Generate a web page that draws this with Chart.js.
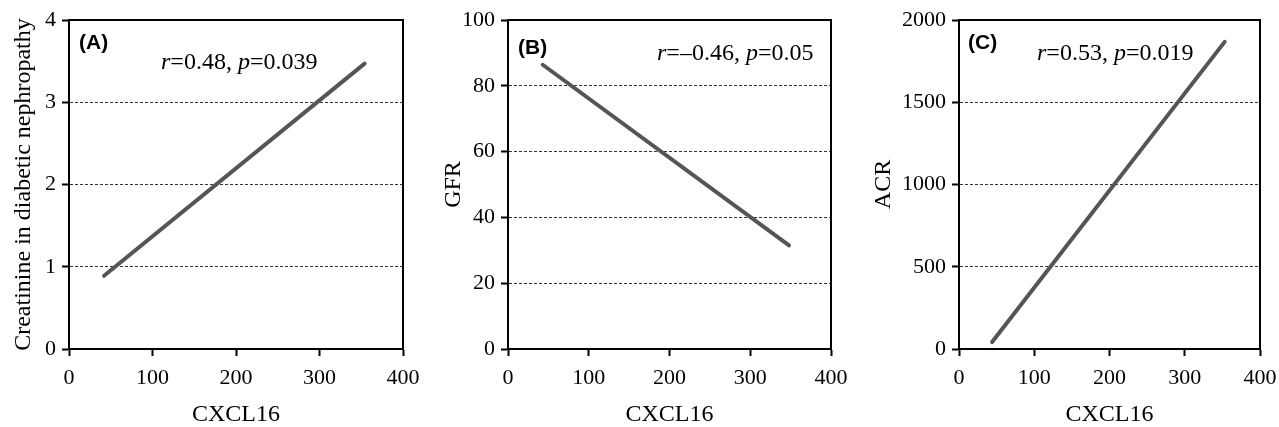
<!DOCTYPE html>
<html>
<head>
<meta charset="utf-8">
<script src="https://cdn.jsdelivr.net/npm/chart.js@4.4.0/dist/chart.umd.min.js"></script>
<style>
  html, body { margin: 0; padding: 0; background: #fff; }
  #wrap { position: relative; width: 1279px; height: 427px; }
  .panel { position: absolute; top: 0; height: 427px; }
</style>
</head>
<body>
<div id="wrap">
  <div class="panel" style="left:0;width:425px"><canvas id="chartA"></canvas></div>
  <div class="panel" style="left:430px;width:425px"><canvas id="chartB"></canvas></div>
  <div class="panel" style="left:860px;width:419px"><canvas id="chartC"></canvas></div>
</div>
<script>
// shared x axis
const xTicks = [0, 100, 200, 300, 400];
const xTitle = 'CXCL16';

// panel A - creatinine
const cxclA = [42, 354];
const creatinine = [0.89, 3.47];
const ticksA = [0, 1, 2, 3, 4];

// panel B - GFR
const cxclB = [43, 348];
const gfr = [86.4, 31.5];
const ticksB = [0, 20, 40, 60, 80, 100];

// panel C - ACR
const cxclC = [44, 353];
const acr = [42, 1867];
const ticksC = [0, 500, 1000, 1500, 2000];

const serif = '"Liberation Serif", "Times New Roman", serif';

// draws the frame box and the panel letter / stats text
const framePlugin = {
  id: 'frame',
  afterDraw(chart, args, opts) {
    const { ctx, chartArea: a } = chart;
    ctx.save();
    ctx.strokeStyle = '#000';
    ctx.lineWidth = 2;
    ctx.strokeRect(a.left, a.top, a.right - a.left, a.bottom - a.top);

    ctx.fillStyle = '#000';
    ctx.textBaseline = 'middle';
    ctx.font = 'bold 21px "Liberation Sans", Arial, sans-serif';
    ctx.fillText(opts.letter, a.left + opts.letterX, a.top + opts.letterY);

    // r=..., p=... with italic letters
    let x = a.left + opts.statX;
    const y = a.top + opts.statY;
    opts.stat.forEach(part => {
      ctx.font = (part.i ? 'italic ' : '') + '24px ' + serif;
      ctx.fillText(part.t, x, y);
      x += ctx.measureText(part.t).width;
    });
    ctx.restore();
  }
};

function makeChart(id, xs, ys, yTicks, yTitle, pad, yWidth, frame) {
  const yMax = yTicks[yTicks.length - 1];
  return new Chart(document.getElementById(id), {
    type: 'scatter',
    data: {
      datasets: [{
        data: xs.map((x, i) => ({ x: x, y: ys[i] })),
        showLine: true,
        borderColor: '#555',
        borderWidth: 4,
        borderCapStyle: 'round',
        pointRadius: 0
      }]
    },
    options: {
      responsive: true,
      maintainAspectRatio: false,
      animation: false,
      events: [],
      layout: { padding: pad },
      plugins: {
        legend: { display: false },
        tooltip: { enabled: false },
        frame: frame
      },
      scales: {
        x: {
          type: 'linear',
          min: 0,
          max: 400,
          afterBuildTicks: s => { s.ticks = xTicks.map(v => ({ value: v })); },
          afterFit: s => { s.height = 78; s.paddingLeft = 0; s.paddingRight = 0; },
          border: { color: '#000', width: 2 },
          grid: { drawOnChartArea: false, drawTicks: true, tickLength: 7, tickColor: '#000', tickWidth: 2 },
          ticks: { color: '#000', font: { family: serif, size: 22 }, padding: 9, maxRotation: 0,
                   callback: v => String(v) },
          title: { display: true, text: xTitle, color: '#000', font: { family: serif, size: 24, lineHeight: 1 }, padding: 0 }
        },
        y: {
          type: 'linear',
          min: 0,
          max: yMax,
          afterBuildTicks: s => { s.ticks = yTicks.map(v => ({ value: v })); },
          afterFit: s => { s.width = yWidth; s.paddingTop = 0; s.paddingBottom = 0; },
          border: { color: '#000', width: 2, dash: [3, 2] },
          grid: {
            color: c => (c.tick.value === 0 || c.tick.value === yMax) ? 'rgba(0,0,0,0)' : '#333',
            lineWidth: 1,
            drawTicks: true,
            tickLength: 7,
            tickColor: '#000',
            tickWidth: 2,
            tickBorderDash: []
          },
          ticks: { color: '#000', font: { family: serif, size: 22 }, padding: 6,
                   callback: v => String(v) },
          title: { display: true, text: yTitle, color: '#000', font: { family: serif, size: 24 }, padding: 0 }
        }
      }
    },
    plugins: [framePlugin]
  });
}

makeChart('chartA', cxclA, creatinine, ticksA, 'Creatinine in diabetic nephropathy',
  { top: 20, right: 22, bottom: 0, left: 9 }, 60,
  { letter: '(A)', letterX: 10, letterY: 23, statX: 92, statY: 43,
    stat: [{ t: 'r', i: true }, { t: '=0.48, ' }, { t: 'p', i: true }, { t: '=0.039' }] });

makeChart('chartB', cxclB, gfr, ticksB, 'GFR',
  { top: 20, right: 24, bottom: 0, left: 9 }, 69,
  { letter: '(B)', letterX: 10, letterY: 28, statX: 149, statY: 34,
    stat: [{ t: 'r', i: true }, { t: '=\u20130.46, ' }, { t: 'p', i: true }, { t: '=0.05' }] });

makeChart('chartC', cxclC, acr, ticksC, 'ACR',
  { top: 20, right: 19, bottom: 0, left: 9 }, 90,
  { letter: '(C)', letterX: 9, letterY: 23, statX: 78, statY: 34,
    stat: [{ t: 'r', i: true }, { t: '=0.53, ' }, { t: 'p', i: true }, { t: '=0.019' }] });
</script>
</body>
</html>
